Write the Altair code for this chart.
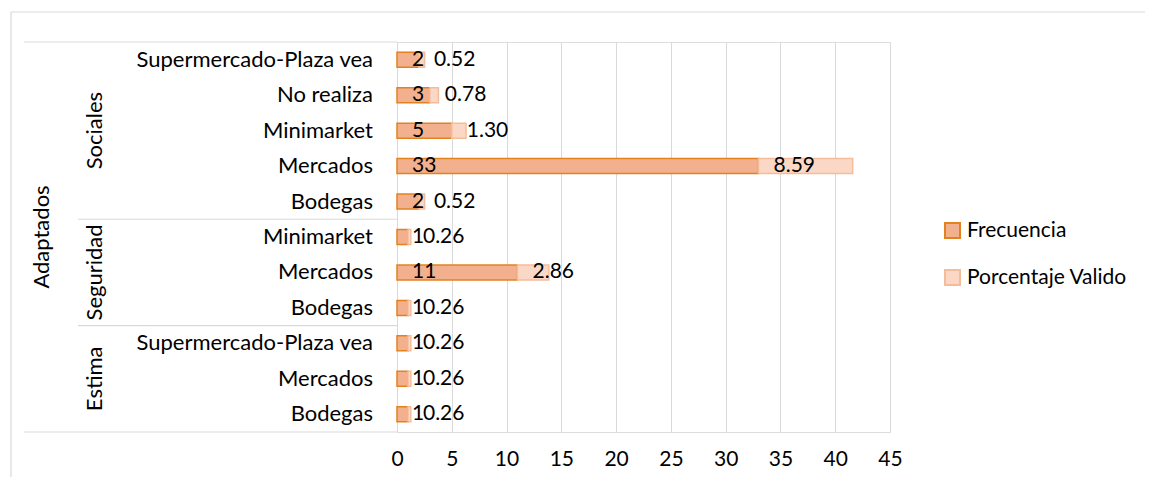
import altair as alt
import pandas as pd

# ---- data ----
nivel_superior = "Adaptados"
grupos = ["Sociales"] * 5 + ["Seguridad"] * 3 + ["Estima"] * 3
categorias = ["Supermercado-Plaza vea", "No realiza", "Minimarket", "Mercados", "Bodegas",
              "Minimarket", "Mercados", "Bodegas",
              "Supermercado-Plaza vea", "Mercados", "Bodegas"]
frecuencia = [2, 3, 5, 33, 2, 1, 11, 1, 1, 1, 1]
porcentaje = [0.52, 0.78, 1.30, 8.59, 0.52, 0.26, 2.86, 0.26, 0.26, 0.26, 0.26]
series = ["Frecuencia", "Porcentaje Valido"]
x_ticks = [0, 5, 10, 15, 20, 25, 30, 35, 40, 45]

FONT = "Lato"
FS = 21
FS_CAT = 22
GRID = "#d9d9d9"
fills = ["#F2B08E", "#FBD8C5"]
strokes = ["#E2821F", "#F5BC9C"]

# ---- tables built from the arrays ----
rows = []
for i, (g, c, f, p) in enumerate(zip(grupos, categorias, frecuencia, porcentaje)):
    rows.append(dict(pos=i, grupo=g, cat=c, serie=series[0], ini=0, fin=f, label=str(f)))
    rows.append(dict(pos=i, grupo=g, cat=c, serie=series[1], ini=f, fin=f + p, label=f"{p:.2f}"))
bars_df = pd.DataFrame(rows)
cats_df = pd.DataFrame({"pos": list(range(len(categorias))), "cat": categorias})

grp_names = []
for g in grupos:
    if g not in grp_names:
        grp_names.append(g)
grp_df = pd.DataFrame({
    "grupo": grp_names,
    "centro": [sum(i for i, x in enumerate(grupos) if x == g) / grupos.count(g) for g in grp_names],
})
n = len(categorias)
top_df = pd.DataFrame({"nombre": [nivel_superior], "centro": [(n - 1) / 2]})
outer_df = pd.DataFrame({"b": [-0.5, n - 0.5]})
inner_b = []
for i in range(1, n):
    if grupos[i] != grupos[i - 1]:
        inner_b.append(i - 0.5)
inner_df = pd.DataFrame({"b": inner_b})

yscale = alt.Scale(domain=[-0.5, n - 0.5], reverse=True, nice=False, zero=False, padding=0)

legend = alt.Legend(orient="none", legendX=545, legendY=178, title=None,
                    symbolType="square", symbolSize=225, symbolStrokeWidth=2,
                    labelFontSize=FS, labelFont=FONT, labelColor="black",
                    rowPadding=24, labelOffset=4, padding=0)

bars = alt.Chart(bars_df).mark_bar(orient="horizontal", height=15, strokeWidth=1.5).encode(
    x=alt.X("ini:Q", scale=alt.Scale(domain=[0, 45], nice=False, padding=0),
            axis=alt.Axis(values=x_ticks, grid=True, gridColor=GRID, gridWidth=1,
                          domain=False, ticks=False, labelFontSize=FS, labelFont=FONT,
                          labelColor="black", labelPadding=16, labelFlush=False,
                          labelBound=False, title=None)),
    x2="fin:Q",
    y=alt.Y("pos:Q", scale=yscale,
            axis=alt.Axis(labels=False, ticks=False, grid=False, domainColor=GRID,
                          domainWidth=1, title=None)),
    fill=alt.Fill("serie:N", scale=alt.Scale(domain=series, range=fills), legend=legend),
    stroke=alt.Stroke("serie:N", scale=alt.Scale(domain=series, range=strokes), legend=legend),
)

labels = alt.Chart(bars_df).mark_text(align="left", baseline="middle", dx=15,
                                      fontSize=FS, font=FONT, color="black").encode(
    x="ini:Q", y=alt.Y("pos:Q", scale=yscale), text="label:N")

cat_labels = alt.Chart(cats_df).mark_text(align="right", baseline="middle",
                                          fontSize=FS_CAT, font=FONT, color="black").encode(
    x=alt.value(-24), y=alt.Y("pos:Q", scale=yscale), text="cat:N")

grp_labels = alt.Chart(grp_df).mark_text(align="center", baseline="middle", angle=270,
                                         fontSize=FS_CAT, font=FONT, color="black").encode(
    x=alt.value(-302), y=alt.Y("centro:Q", scale=yscale), text="grupo:N")

top_label = alt.Chart(top_df).mark_text(align="center", baseline="middle", angle=270,
                                        fontSize=FS_CAT, font=FONT, color="black").encode(
    x=alt.value(-355), y=alt.Y("centro:Q", scale=yscale), text="nombre:N")

outer_lines = alt.Chart(outer_df).mark_rule(color=GRID, strokeWidth=1.2).encode(
    y=alt.Y("b:Q", scale=yscale), x=alt.value(-373), x2=alt.value(0))
inner_lines = alt.Chart(inner_df).mark_rule(color=GRID, strokeWidth=1.2).encode(
    y=alt.Y("b:Q", scale=yscale), x=alt.value(-319), x2=alt.value(0))

border_top = alt.Chart(top_df).mark_rule(color=GRID, strokeWidth=1.2).encode(
    x=alt.value(-386), x2=alt.value(755), y=alt.value(-30))
border_left = alt.Chart(top_df).mark_rule(color=GRID, strokeWidth=1.2).encode(
    x=alt.value(-386), y=alt.value(-30), y2=alt.value(445))

chart = alt.layer(
    border_top, border_left, outer_lines, inner_lines,
    bars, labels, cat_labels, grp_labels, top_label,
).properties(
    width=493, height=390,
    autosize=alt.AutoSizeParams(type="none"),
    padding={"left": 389, "top": 34, "right": 255, "bottom": 45},
).configure_view(stroke=None).configure(font=FONT)

chart.save("out.html", embed_options={"renderer": "svg", "actions": False})
